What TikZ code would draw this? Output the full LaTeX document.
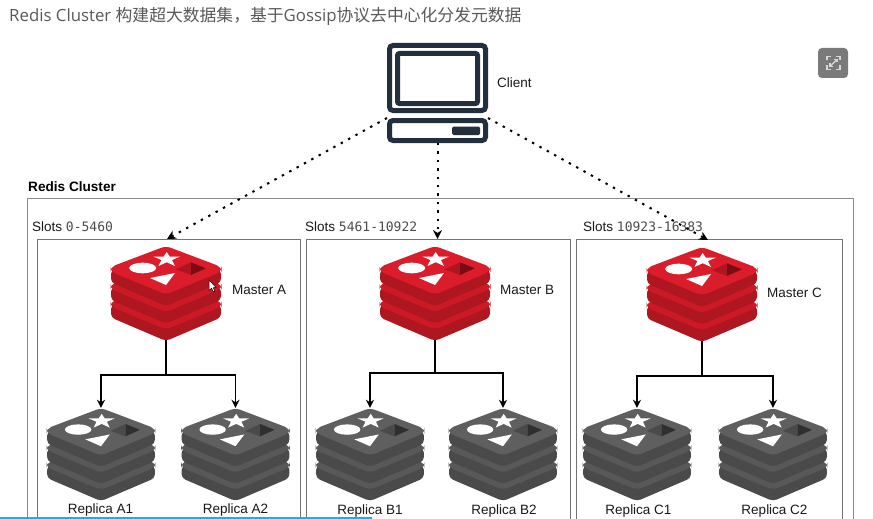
\documentclass[tikz,border=0pt]{standalone}
\usepackage{fontspec}
\setmainfont{Liberation Sans}
\newfontfamily\titlefont{Open Sans}
\newfontfamily\cjk{Noto Sans CJK SC}
\newfontfamily\codefont{DejaVu Sans Mono}
\usetikzlibrary{arrows.meta,calc}
\definecolor{navy}{HTML}{232F3E}
\definecolor{redface}{HTML}{DB1C2B}
\definecolor{redstrip}{HTML}{CB1A26}
\definecolor{redside}{HTML}{AE1620}
\definecolor{redhalf}{HTML}{AD1520}
\definecolor{reddark}{HTML}{7A0C14}
\definecolor{greyface}{HTML}{5F5F5F}
\definecolor{greystrip}{HTML}{585858}
\definecolor{greyside}{HTML}{4A4A4A}
\definecolor{greyhalf}{HTML}{4A4A4A}
\definecolor{greydark}{HTML}{2F2F2F}
\definecolor{barblue}{HTML}{12B2F2}
\tikzset{
  boxline/.style={draw=#1,line width=0.9pt},
  boxline/.default={black!55},
  dotlink/.style={line width=2pt,dash pattern=on 2.4pt off 6pt,-{Stealth[length=9pt,width=9pt]}},
  treelink/.style={line width=1.5pt,-{Stealth[length=8pt,width=8pt]}},
  label/.style={font=\fontsize{13.5}{15}\selectfont,inner sep=0pt,text=black!90},
  monitor/.style={draw=navy,line width=5pt,rounded corners=3.5pt,inner sep=0pt}
}
\newcommand{\redislayer}[3]{%
  \begin{scope}[shift={(0,#1)}]
    \fill[#3,rounded corners=4pt] (-55,24)--(-55,36.5)--(0,60)--(55,36.5)--(55,24)--cycle;
    \fill[#2,rounded corners=5pt] (0,0)--(-55.5,21)--(-55.5,25.5)--(0,48.5)--(55.5,25.5)--(55.5,21)--cycle;
  \end{scope}}
% [scale] name, cx, top, face, strip, side, half, dark
\newcommand{\redislogo}[9][1]{%
  \begin{scope}[shift={(#3,#4)},scale=#1]
    \redislayer{35}{#6}{#7}
    \redislayer{17.5}{#6}{#7}
    \redislayer{0}{#5}{#7}
    \node[inner sep=0pt,minimum width=110pt*#1,minimum height=94pt*#1] (#2) at (0,47) {};
    \fill[white] (0.7,6)--(3.8,10.6)--(14,10.6)--(6,14)--(8.9,20)--(0.7,16.2)--(-7.5,20)--(-4.6,14)--(-12.6,10.6)--(-2.4,10.6)--cycle;
    \fill[white] (-23.3,22) ellipse [x radius=13.5,y radius=5.3];
    \fill[white] (-16,32)--(9,27)--(0,39)--cycle;
    \fill[#8] (10,23.3)--(25,16.3)--(25,29)--cycle;
    \fill[#9] (25,16.3)--(39.7,22.3)--(25,29)--cycle;
  \end{scope}}
\newcommand{\slotnum}[1]{{\codefont\fontsize{13}{15}\selectfont\color{black!70}#1}}
\begin{document}
\begin{tikzpicture}[x=1pt,y=-1pt]
\useasboundingbox (0,0) rectangle (873,519);
\fill[white] (0,0) rectangle (873,519);
% title
\node[anchor=west,inner sep=0pt,text=black!65,font=\fontsize{16.8}{20}\selectfont] (title) at (9,16)
  {\titlefont Redis Cluster {\cjk 构建超大数据集，基于}Gossip{\cjk 协议去中心化分发元数据}};
% expand icon
\fill[black!52,rounded corners=4pt] (818,48) rectangle (848,78);
\begin{scope}[draw=white!85!black,line width=1.2pt]
  \draw (827,60.5)--(827,56.5)--(831,56.5) (836,56.5)--(840,56.5)--(840,60.5) (840,65.5)--(840,69.5)--(836,69.5) (831,69.5)--(827,69.5)--(827,65.5);
  \draw (830,66.5)--(837,59.5);
  \draw (834,59.5)--(837,59.5)--(837,62.5) (830,63.5)--(830,66.5)--(833,66.5);
\end{scope}
% cluster frames
\node[anchor=west,inner sep=0pt,font=\bfseries\fontsize{13.6}{15}\selectfont] (clustername) at (28,186.7) {Redis Cluster};
\draw[boxline=black!45] (27,519)--(27,198)--(853,198)--(853,519);
\draw[boxline] (37,519)--(37,239)--(300,239)--(300,519);
\draw[boxline] (306,519)--(306,239)--(570,239)--(570,519);
\draw[boxline] (576,519)--(576,239)--(842,239)--(842,519);
\node[label,anchor=west] (slotsa) at (32,226.6) {Slots \slotnum{0-5460}};
\node[label,anchor=west] (slotsb) at (305,226.6) {Slots \slotnum{5461-10922}};
\node[label,anchor=west] (slotsc) at (583,226.6) {Slots \slotnum{10923-16383}};
% client
\node[monitor,minimum width=96pt,minimum height=65pt] (screen) at (437.5,78) {};
\node[monitor,minimum width=80pt,minimum height=50pt,rounded corners=2pt] (glass) at (437.5,78.5) {};
\node[monitor,minimum width=96pt,minimum height=20pt] (cbase) at (437.5,130.5) {};
\fill[navy,rounded corners=1.5pt] (452,126.5) rectangle (480,135);
\node[label,anchor=west] (client) at (497,83) {Client};
% redis logos
\redislogo{ma}{166}{246}{redface}{redstrip}{redside}{redhalf}{reddark}
\redislogo{mb}{435}{246}{redface}{redstrip}{redside}{redhalf}{reddark}
\redislogo{mc}{702}{247}{redface}{redstrip}{redside}{redhalf}{reddark}
\redislogo[0.98]{ra1}{101}{408}{greyface}{greystrip}{greyside}{greyhalf}{greydark}
\redislogo[0.98]{ra2}{235.5}{408}{greyface}{greystrip}{greyside}{greyhalf}{greydark}
\redislogo[0.98]{rb1}{370}{408}{greyface}{greystrip}{greyside}{greyhalf}{greydark}
\redislogo[0.98]{rb2}{503}{408}{greyface}{greystrip}{greyside}{greyhalf}{greydark}
\redislogo[0.98]{rc1}{637}{408}{greyface}{greystrip}{greyside}{greyhalf}{greydark}
\redislogo[0.98]{rc2}{773}{408}{greyface}{greystrip}{greyside}{greyhalf}{greydark}
\node[label,anchor=west] (la) at (232,289.7) {Master A};
\node[label,anchor=west] (lb) at (500,289.7) {Master B};
\node[label,anchor=west] (lc) at (767,293) {Master C};
\node[label] (l1) at (100.5,510.5) {Replica A1};
\node[label] (l2) at (235.5,510.5) {Replica A2};
\node[label] (l3) at (370,511.5) {Replica B1};
\node[label] (l4) at (504,511.5) {Replica B2};
\node[label] (l5) at (638.5,511.5) {Replica C1};
\node[label] (l6) at (774.5,511.5) {Replica C2};
% connectors
\coordinate (ta) at (167,239);
\coordinate (tb) at (437.5,239);
\coordinate (tc) at (708,240);
\draw[dotlink] (cbase.north west) -- (ta);
\draw[dotlink] (cbase.south) -- (tb);
\draw[dotlink] (cbase.north east) -- (tc);
\coordinate (ja) at (166,375);
\coordinate (jb) at (435,373);
\coordinate (jc) at (703,376);
\draw[line width=1.5pt] (ma.south) -- (ja);
\draw[line width=1.5pt] (mb.south) -- (jb);
\draw[line width=1.5pt] (mc.south) -- (mc.south |- jc);
\draw[treelink] (ja) -| (ra1.north);
\draw[treelink] (ja) -| (ra2.north);
\draw[treelink] (jb) -| (rb1.north);
\draw[treelink] (jb) -| (rb2.north);
\draw[treelink] (mc.south |- jc) -| (rc1.north);
\draw[treelink] (mc.south |- jc) -| (rc2.north);
% pointer
\draw[fill=white,line width=0.5pt] (209,280)--(209,290.5)--(211.5,288.3)--(213.5,292)--(215,291.2)--(213.2,287.8)--(216,287.3)--cycle;
% progress bar
\fill[barblue] (0,516.8) rectangle (372,519);
\end{tikzpicture}
\end{document}
